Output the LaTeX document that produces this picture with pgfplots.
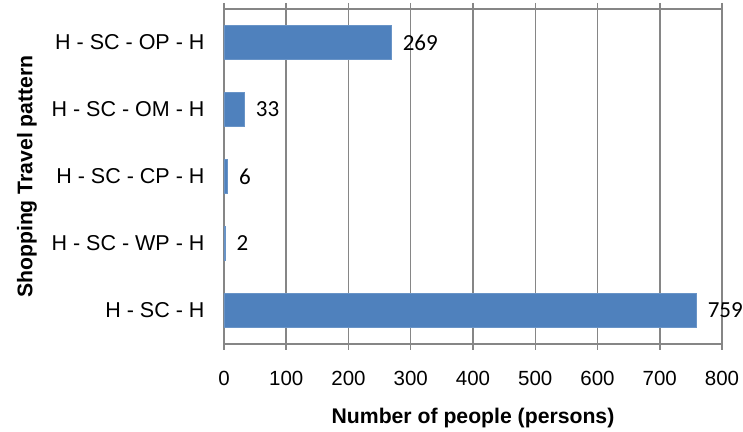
\documentclass[border=0pt]{standalone}
\usepackage{pgfplots}
\pgfplotsset{compat=1.18}
\usepackage{fontspec}
\setmainfont{Liberation Sans}
\newfontfamily\carlito{Carlito}
\definecolor{barblue}{RGB}{79,129,189}
\definecolor{gridgray}{RGB}{134,134,134}
\begin{document}
\begin{tikzpicture}
\begin{pgfinterruptboundingbox}
\begin{axis}[
  name=ax,
  at={(0,0)}, anchor=south west,
  scale only axis,
  width=498bp, height=335bp,
  xbar, bar width=34bp,
  xmin=0, xmax=800,
  ymin=-0.5, ymax=4.5,
  xtick={0,100,...,800},
  ytick={0,1,2,3,4},
  yticklabels={H - SC - H, H - SC - WP - H, H - SC - CP - H, H - SC - OM - H, H - SC - OP - H},
  xmajorgrids,
  grid style={gridgray, line width=1.5bp},
  axis line style={gridgray, line width=1.5bp},
  x tick style={gridgray, line width=1.5bp},
  tick align=outside,
  major tick length=6bp,
  ytick style={draw=none},
  xticklabel style={font=\fontsize{20.5bp}{24bp}\selectfont, yshift=-18bp},
  yticklabel style={font=\fontsize{21.5bp}{24bp}\selectfont, xshift=-10bp},
  /pgf/number format/assume math mode=true,
  xlabel={\textbf{Number of people (persons)}},
  ylabel={\textbf{Shopping Travel pattern}},
  label style={font=\fontsize{21.2bp}{24bp}\selectfont},
  xlabel style={at={(axis description cs:0.5,0)}, anchor=center, yshift=-74bp},
  ylabel style={at={(axis description cs:0,0.5)}, anchor=center, yshift=197bp},
  nodes near coords,
  every node near coord/.append style={font=\carlito\fontsize{23bp}{26bp}\selectfont, black, anchor=west, inner sep=0pt, xshift=11bp},
  clip=false,
]
\addplot[fill=barblue, draw=barblue!85!white, line width=0.6bp] coordinates {(759,0) (2,1) (6,2) (33,3) (269,4)};
\end{axis}
\end{pgfinterruptboundingbox}
\path[use as bounding box] ([shift={(-224bp,-88bp)}]ax.south west) rectangle ([shift={(21bp,9bp)}]ax.north east);
\end{tikzpicture}
\end{document}
